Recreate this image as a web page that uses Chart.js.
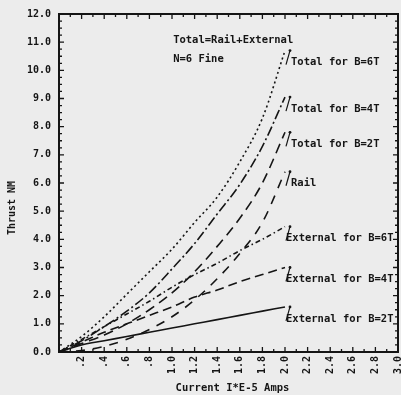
<!DOCTYPE html>
<html lang="en">
<head>
<meta charset="UTF-8">
<title>Thrust vs Current</title>
<script src="https://cdn.jsdelivr.net/npm/chart.js"></script>
<style>
  html, body { margin: 0; padding: 0; background: #ececec; }
  #wrap { width: 401px; height: 395px; }
</style>
</head>
<body>
<div id="wrap"><canvas id="thrustChart" width="401" height="395"></canvas></div>
<script>
// current (I*E-5 Amps) at which the curves are sampled
const current   = [0, 0.2, 0.4, 0.6, 0.8, 1.0, 1.2, 1.4, 1.6, 1.8, 2.0];

// thrust values
const total6T   = [0, 0.55, 1.25, 2.05, 2.85, 3.65, 4.6, 5.5, 6.75, 8.3, 10.7];
const total4T   = [0, 0.4, 0.9, 1.45, 2.1, 2.95, 3.85, 4.9, 5.95, 7.3, 9.05];
const total2T   = [0, 0.3, 0.6, 1.0, 1.5, 2.1, 2.85, 3.75, 4.75, 6.0, 7.8];
const rail      = [0, 0.05, 0.2, 0.45, 0.8, 1.25, 1.85, 2.6, 3.5, 4.6, 6.4];
const external6T = [0, 0.45, 0.9, 1.35, 1.8, 2.3, 2.75, 3.15, 3.6, 4.0, 4.45];
const external4T = [0, 0.35, 0.7, 1.0, 1.3, 1.6, 1.95, 2.2, 2.5, 2.75, 3.0];
const external2T = [0, 0.25, 0.4, 0.55, 0.7, 0.85, 1.0, 1.15, 1.3, 1.45, 1.6];

const seriesNames = ['Total for B=6T', 'Total for B=4T', 'Total for B=2T', 'Rail',
                     'External for B=6T', 'External for B=4T', 'External for B=2T'];

const ink = '#151515';
const mono = "'DejaVu Sans Mono', monospace";

function pts(arr) {
    return current.map((x, i) => ({ x: x, y: arr[i] }));
}

function line(label, arr, dash) {
    return {
        label: label,
        data: pts(arr),
        borderColor: ink,
        borderWidth: 1.6,
        borderDash: dash,
        pointRadius: 0,
        fill: false,
        cubicInterpolationMode: 'monotone'
    };
}

// frame, inward ticks, end labels and titles
const decorations = {
    id: 'decorations',
    afterDraw(chart) {
        const ctx = chart.ctx;
        const a = chart.chartArea;
        const xs = chart.scales.x, ys = chart.scales.y;
        ctx.save();
        ctx.strokeStyle = ink;
        ctx.fillStyle = ink;

        ctx.lineWidth = 2;
        ctx.strokeRect(a.left, a.top, a.right - a.left, a.bottom - a.top);

        ctx.lineWidth = 1.3;
        ctx.beginPath();
        for (let v = 0; v <= 30; v++) {
            const px = xs.getPixelForValue(v / 10);
            const len = v % 2 === 0 ? 5 : 3;
            ctx.moveTo(px, a.bottom); ctx.lineTo(px, a.bottom - len);
            ctx.moveTo(px, a.top); ctx.lineTo(px, a.top + len);
        }
        for (let v = 0; v <= 48; v++) {
            const py = ys.getPixelForValue(v / 4);
            const len = v % 4 === 0 ? 5 : 3;
            ctx.moveTo(a.left, py); ctx.lineTo(a.left + len, py);
            ctx.moveTo(a.right, py); ctx.lineTo(a.right - len, py);
        }
        ctx.stroke();

        // curve end labels with a short leader
        ctx.font = 'bold 10.5px ' + mono;
        ctx.textBaseline = 'middle';
        ctx.textAlign = 'left';
        ctx.lineWidth = 1.2;
        chart.data.datasets.forEach((ds, i) => {
            const meta = chart.getDatasetMeta(i);
            const p = meta.data[meta.data.length - 1];
            const ex = p.x + 5, ey = p.y;
            const shift = i >= 4 ? -5 : 0;
            ctx.beginPath();
            ctx.arc(ex, ey, 1.4, 0, Math.PI * 2);
            ctx.fill();
            ctx.beginPath();
            ctx.moveTo(ex, ey);
            ctx.lineTo(ex - 4, ey + 14);
            ctx.stroke();
            ctx.fillText(seriesNames[i], ex + 1 + shift, ey + 12);
        });

        ctx.font = 'bold 10.5px ' + mono;
        ctx.fillText('Total=Rail+External', xs.getPixelForValue(1.01), ys.getPixelForValue(11.08));
        ctx.fillText('N=6 Fine', xs.getPixelForValue(1.01), ys.getPixelForValue(10.4));

        ctx.font = 'bold 10.5px ' + mono;
        ctx.textAlign = 'center';
        ctx.fillText('Current I*E-5 Amps', (a.left + a.right) / 2 + 4, 388);
        ctx.font = 'bold 10px ' + mono;
        ctx.translate(12, 208);
        ctx.rotate(-Math.PI / 2);
        ctx.fillText('Thrust NM', 0, 0);
        ctx.restore();
    }
};

new Chart(document.getElementById('thrustChart'), {
    type: 'line',
    data: {
        datasets: [
            line(seriesNames[0], total6T, [2, 3]),
            line(seriesNames[1], total4T, [10, 3, 2, 3]),
            line(seriesNames[2], total2T, [10, 6]),
            line(seriesNames[3], rail, [9, 8]),
            line(seriesNames[4], external6T, [5, 3, 1.5, 3]),
            line(seriesNames[5], external4T, [9, 5]),
            line(seriesNames[6], external2T, [])
        ]
    },
    options: {
        responsive: false,
        animation: false,
        devicePixelRatio: 1,
        layout: { padding: { top: 14, right: 3, left: 0, bottom: 0 } },
        plugins: {
            legend: { display: false },
            tooltip: { enabled: false }
        },
        scales: {
            x: {
                type: 'linear',
                min: 0,
                max: 3.0,
                grid: { display: false, drawTicks: false },
                border: { display: false },
                afterFit(scale) {
                    scale.height = 43;
                    scale.paddingLeft = 0;
                    scale.paddingRight = 0;
                },
                ticks: {
                    stepSize: 0.2,
                    autoSkip: false,
                    maxRotation: 90,
                    minRotation: 90,
                    padding: 4,
                    color: ink,
                    font: { family: mono, size: 10, weight: 'bold' },
                    callback: v => v === 0 ? '' : (v < 1 ? v.toFixed(1).slice(1) : v.toFixed(1))
                }
            },
            y: {
                min: 0,
                max: 12,
                grid: { display: false, drawTicks: false },
                border: { display: false },
                afterFit(scale) { scale.width = 59; },
                ticks: {
                    stepSize: 1,
                    padding: 8,
                    color: ink,
                    font: { family: mono, size: 10, weight: 'bold' },
                    callback: v => v.toFixed(1)
                }
            }
        }
    },
    plugins: [decorations]
});
</script>
</body>
</html>
